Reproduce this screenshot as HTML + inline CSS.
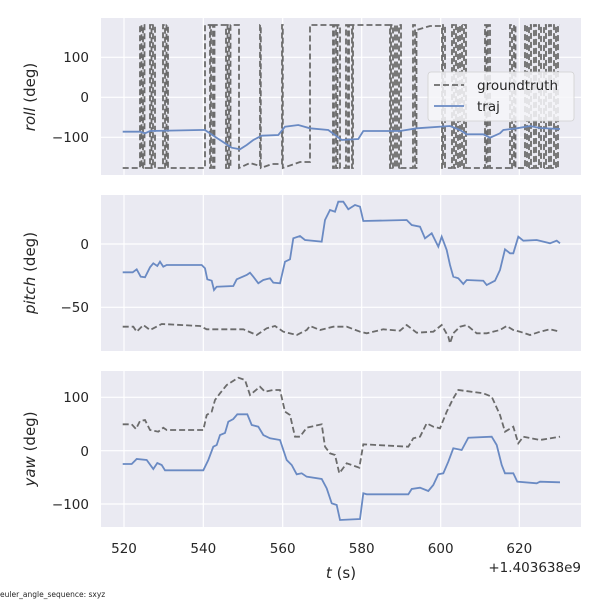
<!DOCTYPE html>
<html><head><meta charset="utf-8"><style>
html,body{margin:0;padding:0;background:#fff;}
svg{display:block;font-family:"DejaVu Sans","Liberation Sans",sans-serif;}
</style></head><body>
<svg width="600" height="600" viewBox="0 0 600 600" xmlns="http://www.w3.org/2000/svg">
<defs>
<clipPath id="c1"><rect x="101" y="18" width="480" height="157"/></clipPath>
<clipPath id="c2"><rect x="101" y="195" width="480" height="156"/></clipPath>
<clipPath id="c3"><rect x="101" y="371" width="480" height="156"/></clipPath>
</defs>
<rect x="101" y="18" width="480" height="157" fill="#eaeaf2"/>
<rect x="101" y="195" width="480" height="156" fill="#eaeaf2"/>
<rect x="101" y="371" width="480" height="156" fill="#eaeaf2"/>
<g stroke="#fff" stroke-width="1.2">
<line x1="124" y1="18" x2="124" y2="175"/><line x1="203.3" y1="18" x2="203.3" y2="175"/><line x1="282.7" y1="18" x2="282.7" y2="175"/><line x1="361.7" y1="18" x2="361.7" y2="175"/><line x1="440.7" y1="18" x2="440.7" y2="175"/><line x1="519.3" y1="18" x2="519.3" y2="175"/>
<line x1="101" y1="57.3" x2="581" y2="57.3"/><line x1="101" y1="97.3" x2="581" y2="97.3"/><line x1="101" y1="137.3" x2="581" y2="137.3"/>
<line x1="124" y1="195" x2="124" y2="351"/><line x1="203.3" y1="195" x2="203.3" y2="351"/><line x1="282.7" y1="195" x2="282.7" y2="351"/><line x1="361.7" y1="195" x2="361.7" y2="351"/><line x1="440.7" y1="195" x2="440.7" y2="351"/><line x1="519.3" y1="195" x2="519.3" y2="351"/>
<line x1="101" y1="244" x2="581" y2="244"/><line x1="101" y1="307.3" x2="581" y2="307.3"/>
<line x1="124" y1="371" x2="124" y2="527"/><line x1="203.3" y1="371" x2="203.3" y2="527"/><line x1="282.7" y1="371" x2="282.7" y2="527"/><line x1="361.7" y1="371" x2="361.7" y2="527"/><line x1="440.7" y1="371" x2="440.7" y2="527"/><line x1="519.3" y1="371" x2="519.3" y2="527"/>
<line x1="101" y1="397.3" x2="581" y2="397.3"/><line x1="101" y1="450.7" x2="581" y2="450.7"/><line x1="101" y1="504" x2="581" y2="504"/>
</g>
<g clip-path="url(#c1)" fill="none">
<path stroke="#6b6b6b" stroke-width="1.8" stroke-dasharray="6,3" d="M122.7,168 H140 V25 H141.5 V168 H143 V25 H144.5 V168 H150 V25 H151.5 V168 H153 V25 H155 V168 H163 V25 H165 V168 H166.5 V25 H168 V168 H205 V25 H210 V168 H211 V25 H213 V168 H214.5 V25 H226 V168 H227.5 V25 H229 V168 H230.5 V25 H239 V168 L250,163 L260,166 V25 H260.8 V168 L272,164 H282 V25 H282.8 V168 L300,162 H310 V25 H333 V168 H334 V25 H336 V168 H337.5 V25 H340 V168 H346 V25 H348 V168 H349 V25 H352 V168 H353 V25 H390 V168 H391 V25 H393 V168 H395 V25 H397 V168 H399 V25 H401 V168 H413 V25 H415 V168 H416.5 V30 L430,26 H442 V168 H443 V25 H445 V168 H452 V25 H454 V168 H456 V25 H458 V168 H460 V25 H462 V168 H464 V25 H466 V168 H485 V25 H486.5 V168 H488 V25 H490 V168 H510 V25 H512 V168 H514 V25 H515.5 V168 H525 V25 H527 V168 H529 V25 H531 V168 H534 V25 H536 V168 H539 V25 H541 V168 H544 V25 H546 V168 H549 V25 H551 V168 H554 V25 H556 V168 H558 V25 H560"/>
<polyline stroke="#6a8ac3" stroke-width="1.8" points="122.7,131.7 140,131.7 145,133.3 150,131 200,130 205,130 215,136.7 225,143.3 231.7,147.7 240,149.3 246.7,145 253.3,140 261.7,135.7 278.3,135 285,126.7 298.3,125 310,128.3 328.3,130 335,135 341.7,140 358.3,139 363.3,131 400,131 416.7,128.3 450,126 460,130 466.7,134.3 483.3,134.3 490,137.7 500,133.3 503.3,130 516.7,128.3 530,126 540,128 560,129"/>
</g>
<rect x="428" y="72" width="146" height="49" rx="3" fill="#f6f6f9" fill-opacity="0.85" stroke="#d0d0d0" stroke-width="0.8"/>
<line x1="434" y1="85" x2="464" y2="85" stroke="#6b6b6b" stroke-width="1.8" stroke-dasharray="6,3"/>
<text x="477" y="90" font-size="13.5" fill="#262626">groundtruth</text>
<line x1="434" y1="106" x2="464" y2="106" stroke="#6a8ac3" stroke-width="1.8"/>
<text x="477" y="111" font-size="13.5" fill="#262626">traj</text>
<g clip-path="url(#c2)" fill="none">
<polyline stroke="#6b6b6b" stroke-width="1.8" stroke-dasharray="6,3" points="122.7,326.7 133.3,326.7 136.7,331.7 143.3,325 150,330 161.7,324 200,326 206.7,329.3 243.3,329.3 256.7,335 266.7,328.3 275,326 283.3,331.7 296.7,335 306.7,330 310,326 320,330 333.3,326.7 346.7,326.7 360,331.7 366.7,333.3 383.3,329.3 400,330.7 406.7,325 416.7,332.7 433.3,331.7 441.7,325 448.3,336.7 450,343.3 453.3,333.3 460,326.7 466.7,325 476.7,333.3 486.7,333.3 500,330 506.7,326 513.3,330 520,331.7 530,335 540,331.7 550,329.3 560,331.7"/>
<polyline stroke="#6a8ac3" stroke-width="1.8" points="122.7,272.3 132.7,272.3 136.7,269.3 140.7,276.7 145,277.3 150,267.3 153.3,263.3 157.3,266 160,261.7 163.3,266.7 166.7,265 201.7,265 205,268.3 207.3,279.3 211.7,280.7 214,290 216.7,286.7 233.3,286 236.7,279.3 246.7,275 250,272.7 253.3,276.7 258.3,283.3 263.3,280 270,278.3 273.3,282.7 280,283.3 285,261.7 290,259.3 293.3,238.3 300,236 305,240 321.7,241.7 325,220 330,210 335,211.7 338.3,201.7 343.3,201.7 348.3,209.3 355,205 360,206.7 363.3,221 406.7,220 411.7,225 420,226.7 425,238.3 431.7,233.3 435,240 438.3,246.7 441.7,236.7 446.7,250 450,265 453.3,276.7 458.3,278.3 463.3,284 466.7,280 483.3,280.7 486.7,285 495,280.7 500,270 505,249.3 510,253.3 513.3,253.3 518.3,236.7 523.3,240.7 536.7,240 550,243.3 556.7,240.7 560,243.3"/>
</g>
<g clip-path="url(#c3)" fill="none">
<polyline stroke="#6b6b6b" stroke-width="1.8" stroke-dasharray="6,3" points="122.7,424.3 131.7,424.3 136,429 140,421 145,420 150,430 158.3,431.7 163.3,427.7 166.7,430 203.3,430 206.7,415 211.7,411.7 215,400 220,393.3 226.7,385 238.3,377.7 245,380 250,395 260,386.7 265,391.7 273.3,390 280,390 285,411.7 290,415 295,436.7 300,436.7 306.7,427.7 321.7,424.3 325,446.7 330,453.3 335,455 339.3,473.3 346.7,463.3 359.3,467.7 363.3,444.3 408.3,446.7 413.3,438.3 420,436.7 426.7,423.3 433.3,426.7 440,428.3 446.7,411.7 453.3,398.3 458.3,390 483.3,393.3 491.7,396.7 500,415 505,431.7 513.3,426.7 518.3,443.3 523.3,436.7 540,440 560,436.7"/>
<polyline stroke="#6a8ac3" stroke-width="1.8" points="122.7,464 131.7,464 136.7,459 146.7,460 153.3,469 157.3,463 161.7,465 165,470.3 203.3,470.3 208.3,460 213.3,446.7 216.7,445 220,435 225,433 228.3,421.7 233.3,419 237.3,414.3 247.3,414.3 251.7,425 258.3,426.7 263.3,435 270,438.3 280,440 286.7,460 291.7,465 296.7,474.3 301.7,473.3 306.7,476.7 321.7,479 326.7,488.3 331.7,503.3 336.7,505 340,520 360,519 363.3,493.3 366.7,494.3 408.3,494.3 411.7,489 420,487.7 428.3,491 433.3,485 438.3,474.3 443.3,473.3 448.3,461.7 453.3,448.3 461.7,450 468.3,437.7 491.7,436.7 496.7,445 501.7,465 505,473.3 513.3,473.3 517.3,481.7 536.7,483.3 540,481.7 560,482.3"/>
</g>
<g font-size="13.5" fill="#262626" text-anchor="end">
<text x="89" y="62">100</text><text x="89" y="102">0</text><text x="89" y="142">−100</text>
<text x="89" y="249">0</text><text x="89" y="312">−50</text>
<text x="89" y="402">100</text><text x="89" y="456">0</text><text x="89" y="509">−100</text>
</g>
<g font-size="13.5" fill="#262626" text-anchor="middle">
<text x="124" y="553">520</text><text x="203.3" y="553">540</text><text x="282.7" y="553">560</text><text x="361.7" y="553">580</text><text x="440.7" y="553">600</text><text x="519.3" y="553">620</text>
<text x="341" y="578" font-size="15"><tspan font-style="italic">t</tspan> (s)</text>
</g>
<text x="581" y="572" font-size="13.5" fill="#262626" text-anchor="end">+1.403638e9</text>
<g font-size="15" fill="#262626" text-anchor="middle">
<text transform="translate(35,97) rotate(-90)"><tspan font-style="italic">roll</tspan> (deg)</text>
<text transform="translate(35,273) rotate(-90)"><tspan font-style="italic">pitch</tspan> (deg)</text>
<text transform="translate(35,449) rotate(-90)"><tspan font-style="italic">yaw</tspan> (deg)</text>
</g>
<text x="0" y="597" font-size="7.5" fill="#262626">euler_angle_sequence: sxyz</text>
</svg>
</body></html>
